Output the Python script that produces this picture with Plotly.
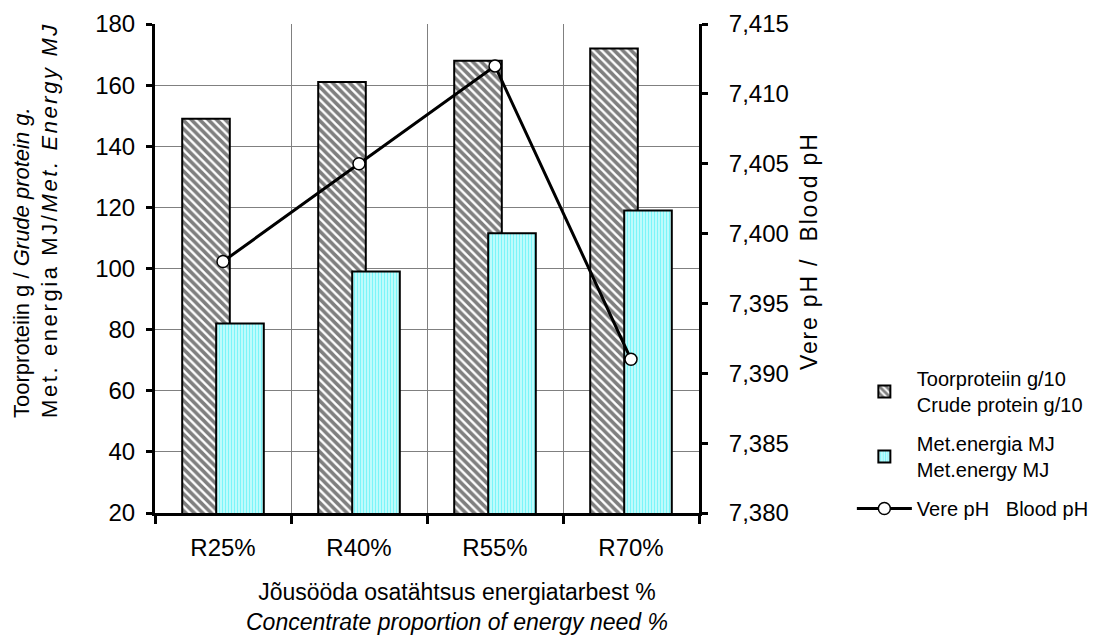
import plotly.graph_objects as go
from plotly.subplots import make_subplots

categories = ["R25%", "R40%", "R55%", "R70%"]
crude_protein = [149, 161, 168, 172]
met_energy = [82, 99, 111.5, 119]
blood_ph = [7.398, 7.405, 7.412, 7.391]

FONT = "Liberation Sans, Arial, sans-serif"

fig = make_subplots(specs=[[{"secondary_y": True}]])

fig.add_trace(go.Bar(
    x=categories, y=crude_protein,
    name="Toorproteiin g/10<br>Crude protein g/10",
    legendgroup="a",
    width=0.35, offset=-0.3,
    marker=dict(color="white", line=dict(color="black", width=2),
                pattern=dict(shape="\\", fgcolor="black", bgcolor="white",
                             size=6, solidity=0.6, fillmode="overlay")),
), secondary_y=False)

fig.add_trace(go.Bar(
    x=categories, y=met_energy,
    name="Met.energia MJ<br>Met.energy MJ",
    legendgroup="b",
    width=0.35, offset=-0.05,
    marker=dict(color="#d4fdfd", line=dict(color="black", width=2),
                pattern=dict(shape="|", fgcolor="#22eef6", bgcolor="#d4fdfd",
                             size=3, solidity=0.5, fillmode="overlay")),
), secondary_y=False)

fig.add_trace(go.Scatter(
    x=categories, y=blood_ph,
    name="Vere pH   Blood pH",
    legendgroup="c",
    mode="lines+markers",
    line=dict(color="black", width=3),
    marker=dict(symbol="circle", size=12, color="white",
                line=dict(color="black", width=1.5)),
), secondary_y=True)

fig.update_layout(
    width=1102, height=632,
    margin=dict(l=147, r=411, t=16, b=127, autoexpand=False),
    paper_bgcolor="white", plot_bgcolor="white",
    barmode="overlay",
    separators=", ",
    font=dict(family=FONT, color="black", size=20),
    showlegend=True,
    legend=dict(x=1.281, xanchor="left", y=0.315, yanchor="top",
                font=dict(size=20, family=FONT), traceorder="grouped",
                tracegroupgap=10, itemwidth=55, bgcolor="rgba(0,0,0,0)"),
    annotations=[
        dict(
            text="Jõusööda osatähtsus energiatarbest %<br><i>Concentrate proportion of energy need %</i>",
            xref="paper", yref="paper", x=0.555, y=-0.13, xanchor="center", yanchor="top",
            showarrow=False, font=dict(size=23, family=FONT), align="center",
        ),
        dict(
            text="Toorproteiin g / <i>Grude protein g.</i><br>"
                 "<span style='letter-spacing:2.6px'>Met. energia MJ/<i>Met. Energy MJ</i></span>",
            xref="paper", yref="paper", x=-0.219, y=0.19, xanchor="center", yanchor="bottom",
            textangle=-90, showarrow=False, font=dict(size=22, family=FONT), align="left",
        ),
        dict(
            text="<span style='letter-spacing:1.8px'>Vere pH /  Blood pH</span>",
            xref="paper", yref="paper", x=1.2022, y=0.536, xanchor="center", yanchor="middle",
            textangle=-90, showarrow=False, font=dict(size=23, family=FONT),
        ),
    ],
)

fig.update_xaxes(
    domain=[0, 1],
    type="category", range=[-0.5, 3.5], tickson="boundaries",
    showgrid=True, gridcolor="#808080", gridwidth=1,
    showline=True, linecolor="black", linewidth=3,
    ticks="outside", ticklen=8, tickwidth=3, tickcolor="black",
    tickfont=dict(size=24), ticklabelstandoff=11, automargin=False,
)

fig.update_yaxes(
    range=[20, 180], dtick=20,
    showgrid=True, gridcolor="#808080", gridwidth=1,
    showline=True, linecolor="black", linewidth=3,
    ticks="outside", ticklen=6, tickwidth=3, tickcolor="black",
    tickfont=dict(size=24), zeroline=False, ticklabelstandoff=6,
    automargin=False,
    secondary_y=False,
)

fig.update_yaxes(
    range=[7.38, 7.415], dtick=0.005, tickformat=".3f",
    showgrid=False,
    showline=True, linecolor="black", linewidth=3,
    ticks="outside", ticklen=6, tickwidth=3, tickcolor="black",
    tickfont=dict(size=24), zeroline=False, ticklabelstandoff=16,
    automargin=False,
    secondary_y=True,
)

fig.write_html("out.html")
